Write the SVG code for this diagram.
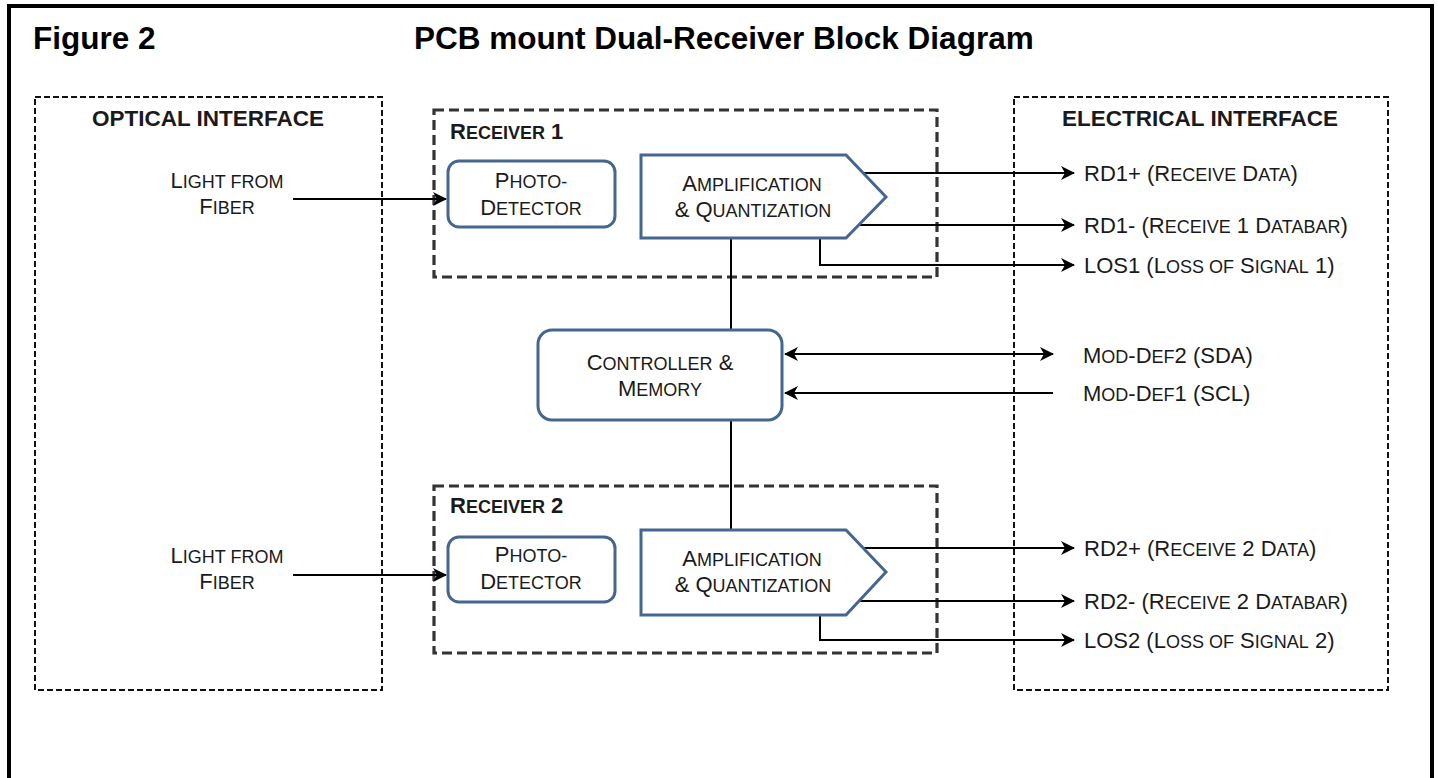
<svg xmlns="http://www.w3.org/2000/svg" width="1438" height="778" viewBox="0 0 1438 778">
<style>
.t{font-family:"Liberation Sans",Arial,sans-serif;fill:#1a1a1a;font-size:22px}
.s{font-size:18px}
.title{font-size:31.5px;font-weight:bold;fill:#000}
.hdr{font-size:22.5px;font-weight:bold}
.b{font-weight:bold}
.node{fill:#fff;stroke:#44668f;stroke-width:3}
.iface{fill:none;stroke:#111;stroke-width:2;stroke-dasharray:6 3}
.recv{fill:none;stroke:#333;stroke-width:3.2;stroke-dasharray:10 5}
.wire{fill:none;stroke:#000;stroke-width:2}
</style>
<defs>
<marker id="ah" viewBox="0 0 14 14" refX="13" refY="7" markerWidth="14" markerHeight="14" markerUnits="userSpaceOnUse" orient="auto-start-reverse">
<path d="M0,0 L14,7 L0,14 L4,7 z" fill="#000"/>
</marker>
</defs>
<rect width="1438" height="778" fill="#fff"/>
<rect id="frame" x="9" y="6" width="1423" height="800" fill="none" stroke="#000" stroke-width="4"/>
<text class="t title" x="33" y="49">Figure 2</text>
<text class="t title" x="414" y="49">PCB mount Dual-Receiver Block Diagram</text>

<g id="optical-interface">
<rect class="iface" x="35" y="97" width="347" height="593"/>
<text class="t hdr" x="208" y="126" text-anchor="middle">OPTICAL INTERFACE</text>
<text class="t" x="227" y="188" text-anchor="middle">L<tspan class="s">IGHT FROM</tspan></text>
<text class="t" x="227" y="214" text-anchor="middle">F<tspan class="s">IBER</tspan></text>
<text class="t" x="227" y="563" text-anchor="middle">L<tspan class="s">IGHT FROM</tspan></text>
<text class="t" x="227" y="589" text-anchor="middle">F<tspan class="s">IBER</tspan></text>
</g>

<g id="electrical-interface">
<rect class="iface" x="1014" y="97" width="374" height="593"/>
<text class="t hdr" x="1200" y="126" text-anchor="middle">ELECTRICAL INTERFACE</text>
<text class="t" x="1084" y="181">RD1+ (R<tspan class="s">ECEIVE</tspan> D<tspan class="s">ATA</tspan>)</text>
<text class="t" x="1084" y="233">RD1- (R<tspan class="s">ECEIVE</tspan> 1 D<tspan class="s">ATABAR</tspan>)</text>
<text class="t" x="1084" y="273">LOS1 (L<tspan class="s">OSS OF</tspan> S<tspan class="s">IGNAL</tspan> 1)</text>
<text class="t" x="1083" y="363">M<tspan class="s">OD</tspan>-D<tspan class="s">EF</tspan>2 (SDA)</text>
<text class="t" x="1083" y="401">M<tspan class="s">OD</tspan>-D<tspan class="s">EF</tspan>1 (SCL)</text>
<text class="t" x="1084" y="556">RD2+ (R<tspan class="s">ECEIVE</tspan> 2 D<tspan class="s">ATA</tspan>)</text>
<text class="t" x="1084" y="609">RD2- (R<tspan class="s">ECEIVE</tspan> 2 D<tspan class="s">ATABAR</tspan>)</text>
<text class="t" x="1084" y="648">LOS2 (L<tspan class="s">OSS OF</tspan> S<tspan class="s">IGNAL</tspan> 2)</text>
</g>

<g id="receiver1">
<rect class="recv" x="434" y="110" width="503" height="167"/>
<text class="t b" x="450" y="139">R<tspan class="s">ECEIVER</tspan> 1</text>
</g>
<g id="receiver2">
<rect class="recv" x="434" y="486" width="503" height="167"/>
<text class="t b" x="450" y="513">R<tspan class="s">ECEIVER</tspan> 2</text>
</g>

<g id="connectors">
<path class="wire" d="M293,199 H446" marker-end="url(#ah)"/>
<path class="wire" d="M293,575 H446" marker-end="url(#ah)"/>
<path class="wire" d="M731,238 V330"/>
<path class="wire" d="M731,420 V530"/>
<path class="wire" d="M858,173 H1074" marker-end="url(#ah)"/>
<path class="wire" d="M858,225 H1074" marker-end="url(#ah)"/>
<path class="wire" d="M820,238 V265 H1074" marker-end="url(#ah)"/>
<path class="wire" d="M785,354 H1053" marker-start="url(#ah)" marker-end="url(#ah)"/>
<path class="wire" d="M1053,393 H785" marker-end="url(#ah)"/>
<path class="wire" d="M858,548 H1074" marker-end="url(#ah)"/>
<path class="wire" d="M858,601 H1074" marker-end="url(#ah)"/>
<path class="wire" d="M820,615 V640 H1074" marker-end="url(#ah)"/>
</g>

<g id="photodetector1">
<rect class="node" x="448" y="161" width="167" height="66" rx="11"/>
<text class="t" x="531" y="188" text-anchor="middle">P<tspan class="s">HOTO-</tspan></text>
<text class="t" x="531" y="215" text-anchor="middle">D<tspan class="s">ETECTOR</tspan></text>
</g>
<g id="amp1">
<path class="node" d="M641,155 H846 L886,197 L846,238 H641 Z"/>
<text class="t" x="752" y="191" text-anchor="middle">A<tspan class="s">MPLIFICATION</tspan></text>
<text class="t" x="753" y="217" text-anchor="middle">&amp; Q<tspan class="s">UANTIZATION</tspan></text>
</g>
<g id="controller">
<rect class="node" x="538" y="330" width="244" height="90" rx="14"/>
<text class="t" x="660" y="370" text-anchor="middle">C<tspan class="s">ONTROLLER</tspan> &amp;</text>
<text class="t" x="660" y="396" text-anchor="middle">M<tspan class="s">EMORY</tspan></text>
</g>
<g id="photodetector2">
<rect class="node" x="448" y="537" width="167" height="65" rx="11"/>
<text class="t" x="531" y="562" text-anchor="middle">P<tspan class="s">HOTO-</tspan></text>
<text class="t" x="531" y="589" text-anchor="middle">D<tspan class="s">ETECTOR</tspan></text>
</g>
<g id="amp2">
<path class="node" d="M641,530 H846 L886,572 L846,615 H641 Z"/>
<text class="t" x="752" y="566" text-anchor="middle">A<tspan class="s">MPLIFICATION</tspan></text>
<text class="t" x="753" y="592" text-anchor="middle">&amp; Q<tspan class="s">UANTIZATION</tspan></text>
</g>
</svg>
